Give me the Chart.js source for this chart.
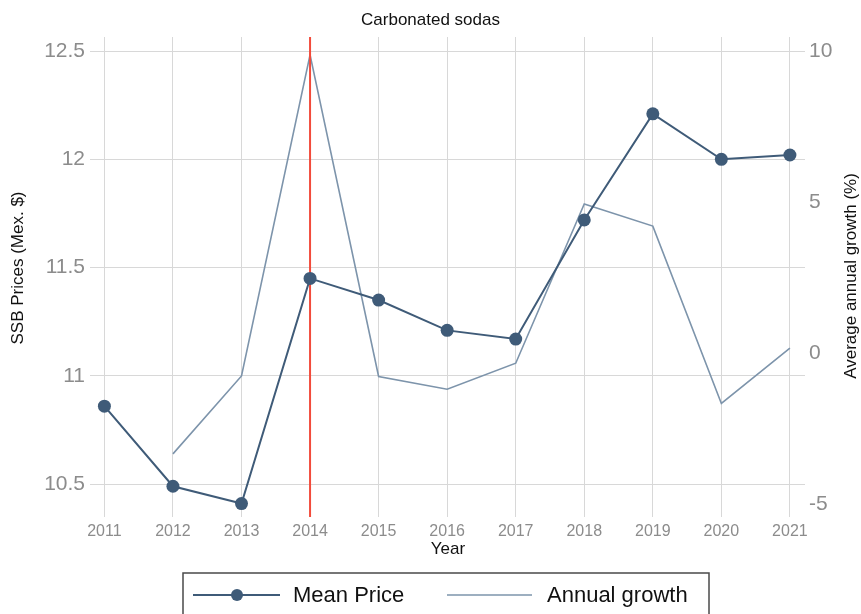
<!DOCTYPE html>
<html>
<head>
<meta charset="utf-8">
<script src="https://cdn.jsdelivr.net/npm/chart.js@4/dist/chart.umd.min.js"></script>
<style>
  html, body { margin: 0; padding: 0; background: #fff; }
  canvas { display: block; }
</style>
</head>
<body>
<canvas id="c" width="861" height="614"></canvas>
<script>
// ---- data ----
const years = [2011, 2012, 2013, 2014, 2015, 2016, 2017, 2018, 2019, 2020, 2021];
const meanPrice = [10.86, 10.49, 10.41, 11.45, 11.35, 11.21, 11.17, 11.72, 12.21, 12.00, 12.02];
const growthYears = [2012, 2013, 2014, 2015, 2016, 2017, 2018, 2019, 2020, 2021];
const annualGrowth = [-3.34, -0.76, 9.87, -0.78, -1.20, -0.34, 4.93, 4.20, -1.67, 0.16];
const leftTicks = [10.5, 11, 11.5, 12, 12.5];
const rightTicks = [-5, 0, 5, 10];
const policyYear = 2014;
const chartTitle = 'Carbonated sodas';
const xTitle = 'Year';
const leftTitle = 'SSB Prices (Mex. $)';
const rightTitle = 'Average annual growth (%)';
const seriesNames = ['Mean Price', 'Annual growth'];

// ---- style ----
const FONT = '"Liberation Sans", Arial, Helvetica, sans-serif';
const C_MEAN = '#3f5b78';
const C_GROWTH = '#7d94ab';
const C_RED = '#f24b3b';
const C_GRID = '#d8d8d8';
const C_TICK = '#8c8c8c';

const meanData = years.map((y, i) => ({ x: y, y: meanPrice[i] }));
const growthData = growthYears.map((y, i) => ({ x: y, y: annualGrowth[i] }));

const decorPlugin = {
  id: 'decor',
  afterDatasetDraw(chart, args) {
    if (args.index !== 1) return;
    const { ctx, chartArea } = chart;
    const x = chart.scales.x.getPixelForValue(policyYear);
    ctx.save();
    ctx.strokeStyle = C_RED;
    ctx.lineWidth = 2;
    ctx.beginPath();
    ctx.moveTo(x, chartArea.top);
    ctx.lineTo(x, chartArea.bottom);
    ctx.stroke();
    ctx.restore();
  },
  afterDraw(chart) {
    const { ctx, chartArea } = chart;
    ctx.save();
    ctx.fillStyle = '#111';
    ctx.textAlign = 'center';
    ctx.textBaseline = 'middle';
    // x title
    ctx.font = '17px ' + FONT;
    ctx.fillText(xTitle, (chartArea.left + chartArea.right) / 2 + 0.5, 549);
    // left title
    ctx.font = '17px ' + FONT;
    ctx.save();
    ctx.translate(18, 268);
    ctx.rotate(-Math.PI / 2);
    ctx.fillText(leftTitle, 0, 0);
    ctx.restore();
    // right title
    ctx.save();
    ctx.translate(851, 276);
    ctx.rotate(-Math.PI / 2);
    ctx.fillText(rightTitle, 0, 0);
    ctx.restore();

    // legend box
    const bx = 183, by = 573, bw = 526, bh = 60;
    ctx.strokeStyle = '#4a4a4a';
    ctx.lineWidth = 1.5;
    ctx.strokeRect(bx, by, bw, bh);
    const ly = 595;
    // item 1
    ctx.strokeStyle = C_MEAN;
    ctx.lineWidth = 2;
    ctx.beginPath();
    ctx.moveTo(bx + 10, ly);
    ctx.lineTo(bx + 97, ly);
    ctx.stroke();
    ctx.fillStyle = C_MEAN;
    ctx.beginPath();
    ctx.arc(bx + 54, ly, 6, 0, Math.PI * 2);
    ctx.fill();
    ctx.fillStyle = '#111';
    ctx.font = '22px ' + FONT;
    ctx.textAlign = 'left';
    ctx.fillText(seriesNames[0], bx + 110, ly + 1);
    // item 2
    ctx.strokeStyle = C_GROWTH;
    ctx.lineWidth = 1.5;
    ctx.beginPath();
    ctx.moveTo(bx + 264, ly);
    ctx.lineTo(bx + 349, ly);
    ctx.stroke();
    ctx.fillStyle = '#111';
    ctx.fillText(seriesNames[1], bx + 364, ly + 1);
    ctx.restore();
  }
};

new Chart(document.getElementById('c'), {
  type: 'line',
  data: {
    datasets: [
      {
        label: seriesNames[0],
        data: meanData,
        yAxisID: 'y',
        borderColor: C_MEAN,
        backgroundColor: C_MEAN,
        borderWidth: 2,
        pointRadius: 6.5,
        pointBorderWidth: 0,
        pointBackgroundColor: C_MEAN,
        tension: 0
      },
      {
        label: seriesNames[1],
        data: growthData,
        yAxisID: 'y2',
        borderColor: C_GROWTH,
        backgroundColor: C_GROWTH,
        borderWidth: 1.6,
        pointRadius: 0,
        tension: 0
      }
    ]
  },
  options: {
    responsive: false,
    animation: false,
    devicePixelRatio: 1,
    layout: { padding: 0 },
    plugins: {
      legend: { display: false },
      tooltip: { enabled: false },
      title: {
        display: true,
        text: chartTitle,
        color: '#111',
        font: { family: FONT, size: 17, weight: 'normal' },
        padding: { top: 10, bottom: 6.6 }
      }
    },
    scales: {
      x: {
        type: 'linear',
        min: 2010.79,
        max: 2021.22,
        afterBuildTicks(s) { s.ticks = years.map(v => ({ value: v })); },
        afterFit(s) { s.height = 97; },
        grid: { color: C_GRID, lineWidth: 1, drawTicks: false },
        border: { display: false },
        ticks: {
          color: C_TICK,
          padding: 5,
          maxRotation: 0,
          font: { family: FONT, size: 16 },
          callback: v => String(v)
        }
      },
      y: {
        type: 'linear',
        position: 'left',
        min: 10.348,
        max: 12.565,
        afterBuildTicks(s) { s.ticks = leftTicks.map(v => ({ value: v })); },
        afterFit(s) { s.width = 90; },
        grid: { color: C_GRID, lineWidth: 1, drawTicks: false },
        border: { display: false },
        ticks: {
          color: C_TICK,
          padding: 5,
          font: { family: FONT, size: 21 },
          callback: v => String(v)
        }
      },
      y2: {
        type: 'linear',
        position: 'right',
        min: -5.43,
        max: 10.46,
        afterBuildTicks(s) { s.ticks = rightTicks.map(v => ({ value: v })); },
        afterFit(s) { s.width = 56; },
        grid: { display: false, drawTicks: false },
        border: { display: false },
        ticks: {
          color: C_TICK,
          padding: 4,
          font: { family: FONT, size: 21 },
          callback: v => String(v)
        }
      }
    }
  },
  plugins: [decorPlugin]
});
</script>
</body>
</html>
